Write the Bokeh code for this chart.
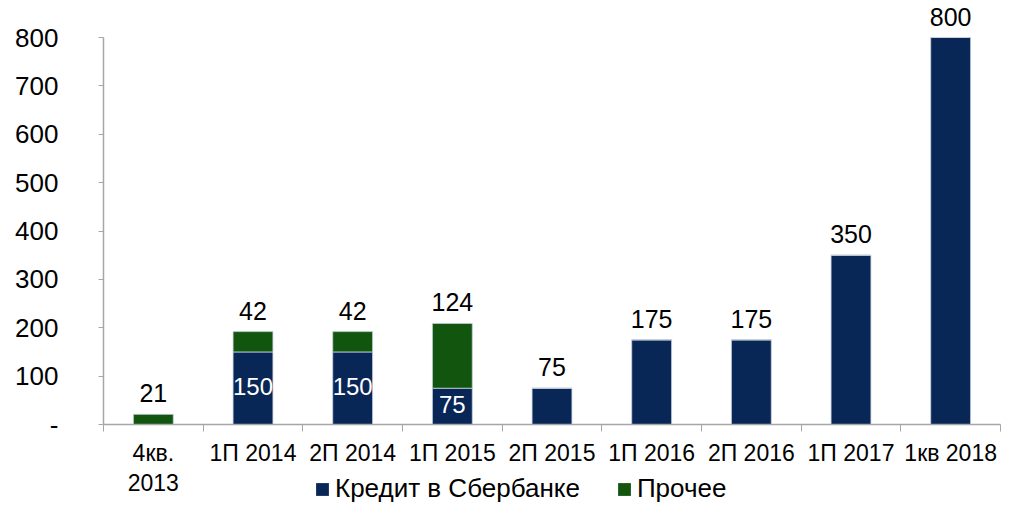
from bokeh.plotting import figure
from bokeh.layouts import column
from bokeh.models import (Range1d, FixedTicker, ColumnDataSource, Legend, LegendItem)
from bokeh.core.properties import value
from bokeh.embed import file_html
from bokeh.resources import INLINE

categories = ["4кв.", "1П 2014", "2П 2014", "1П 2015", "2П 2015",
              "1П 2016", "2П 2016", "1П 2017", "1кв 2018"]
categories_line2 = ["2013", "", "", "", "", "", "", "", ""]
credit = [0, 150, 150, 75, 75, 175, 175, 350, 800]
other = [21, 42, 42, 134, 0, 0, 0, 0, 0]
top_labels = ["21", "42", "42", "124", "75", "175", "175", "350", "800"]
inner_labels = ["", "150", "150", "75", "", "", "", "", ""]
y_ticks = [0, 100, 200, 300, 400, 500, 600, 700, 800]
series_names = ["Кредит в Сбербанке", "Прочее"]

NAVY = "#082656"
GREEN = "#11550f"
EDGE = "#c8d0dc"
FONT = "Liberation Sans"
AX = "#a6a6a6"

n = len(categories)
xc = [i + 0.5 for i in range(n)]
totals = [c + o for c, o in zip(credit, other)]
src = ColumnDataSource(dict(
    x=xc, credit=credit, other=other, total=totals,
    top_labels=top_labels, inner_labels=inner_labels,
    mid=[c / 2 for c in credit],
))

xr = Range1d(0, n)

# ---------------- main chart ----------------
p = figure(frame_width=897, frame_height=424, output_backend="svg",
           toolbar_location=None, x_range=xr, y_range=Range1d(0, 876.5),
           min_border_left=103, min_border_right=1, min_border_top=0,
           min_border_bottom=46)
p.outline_line_color = None
p.xgrid.visible = False
p.ygrid.visible = False

p.vbar(x="x", bottom=0, top="credit", width=0.4, source=src,
       fill_color=NAVY, line_color=EDGE, line_width=0.8)
p.vbar(x="x", bottom="credit", top="total", width=0.4, source=src,
       fill_color=GREEN, line_color=EDGE, line_width=0.8)

p.text(x="x", y="total", text="top_labels", source=src,
       text_align="center", text_baseline="bottom", y_offset=-12,
       text_font=value(FONT), text_font_size="25px", text_color="black")
p.text(x="x", y="mid", text="inner_labels", source=src,
       text_align="center", text_baseline="middle", y_offset=-2,
       text_font=value(FONT), text_font_size="24px", text_color="white")

xa = p.xaxis[0]
xa.ticker = FixedTicker(ticks=xc, minor_ticks=list(range(n + 1)))
xa.major_label_overrides = {x: c for x, c in zip(xc, categories)}
xa.major_tick_out = 0
xa.major_tick_in = 0
xa.minor_tick_out = 7
xa.minor_tick_in = 0
xa.minor_tick_line_color = AX
xa.axis_line_color = AX
xa.axis_line_width = 1.5
xa.major_label_standoff = 8
xa.major_label_text_font = FONT
xa.major_label_text_font_size = "23px"
xa.major_label_text_color = "black"

ya = p.yaxis[0]
ya.ticker = FixedTicker(ticks=y_ticks, minor_ticks=[])
ya.major_label_overrides = {0: "-"}
ya.bounds = (0, 800)
ya.major_tick_out = 5
ya.major_tick_in = 0
ya.major_tick_line_color = AX
ya.axis_line_color = AX
ya.axis_line_width = 1.5
ya.major_label_standoff = 40
ya.major_label_text_font = FONT
ya.major_label_text_font_size = "26px"
ya.major_label_text_color = "black"

# ---------------- bottom strip: 2nd label line + legend ----------------
q = figure(frame_width=897, frame_height=35, output_backend="svg",
           toolbar_location=None, x_range=xr, y_range=Range1d(0, 35),
           min_border_left=103, min_border_right=1, min_border_top=0,
           min_border_bottom=0, x_axis_location=None, y_axis_location=None)
q.outline_line_color = None
q.grid.visible = False

q.text(x=xc, y=[23] * n, text=categories_line2,
       text_align="center", text_baseline="middle",
       text_font=value(FONT), text_font_size="23px", text_color="black")

# zero-height proxies that only carry the legend swatches
e = ColumnDataSource(dict(x=[xc[0]], top=[0]))
d1 = q.vbar(x="x", bottom=0, top="top", width=0.4, source=e,
            fill_color=NAVY, line_color=None)
d2 = q.vbar(x="x", bottom=0, top="top", width=0.4, source=e,
            fill_color=GREEN, line_color=None)

legend = Legend(items=[LegendItem(label=series_names[0], renderers=[d1]),
                       LegendItem(label=series_names[1], renderers=[d2])],
                orientation="horizontal", location=(211, 1),
                label_text_font=FONT, label_text_font_size="26px",
                label_text_color="black",
                glyph_width=16, glyph_height=16, label_standoff=5,
                spacing=36, padding=0, margin=0,
                border_line_color=None, background_fill_alpha=0)
q.add_layout(legend, "center")

layout = column(p, q, spacing=0)
open("out.html", "w").write(file_html(layout, INLINE))
